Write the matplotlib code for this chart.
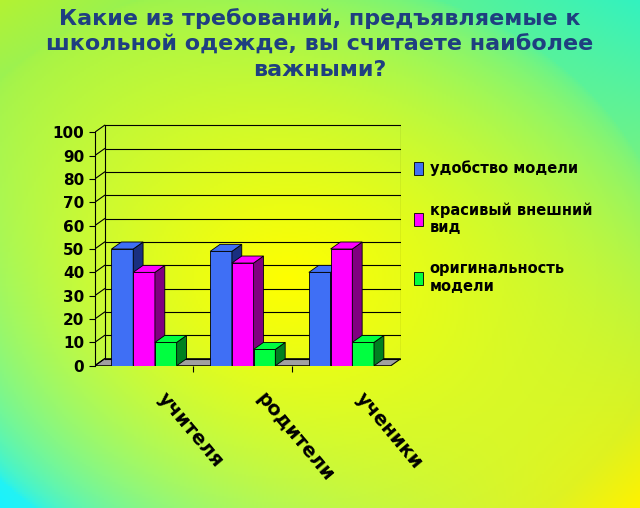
import numpy as np
import matplotlib.pyplot as plt
from matplotlib.patches import Polygon

groups = ['учителя', 'родители', 'ученики']
series = ['удобство модели', 'красивый внешний\nвид', 'оригинальность\nмодели']
values = [[50, 49, 40],
          [40, 44, 50],
          [10, 7, 10]]
colors = ['#3f6ff5', '#ff00ff', '#00ff40']
dark = ['#1a2f80', '#800080', '#008020']

plt.rcParams['font.family'] = ['DejaVu Sans']
fig = plt.figure(figsize=(6.4, 5.08), dpi=100)

# фон-градиент
bg = fig.add_axes([0, 0, 1, 1], zorder=-10)
h, w = 254, 320
yy, xx = np.mgrid[0:1:h * 1j, 0:1:w * 1j]
tl = np.array([0.7, 0.95, 0.2]); tr = np.array([0.2, 0.95, 0.75])
bl = np.array([0.1, 0.95, 1.0]); br = np.array([1.0, 0.95, 0.0])
cor = (tl * ((1 - xx) * (1 - yy))[..., None] + tr * (xx * (1 - yy))[..., None]
       + bl * ((1 - xx) * yy)[..., None] + br * (xx * yy)[..., None])
d = np.sqrt((xx - 0.45) ** 2 + (yy - 0.55) ** 2) / 0.6
wgt = np.clip(1 - d, 0, 1)[..., None] ** 0.6
img = cor * (1 - wgt) + np.array([1, 1, 0]) * wgt
bg.imshow(img, aspect='auto', extent=[0, 1, 0, 1])
bg.axis('off')

ax = fig.add_axes([0.148, 0.28, 0.478, 0.478])
ax.patch.set_alpha(0)
ax.set_xlim(-0.5, 2.6)
ax.set_ylim(0, 104)
dx, dy = 0.1, 3
for v in range(0, 101, 10):
    ax.plot([-0.5 + dx, 2.5 + dx], [v + dy, v + dy], color='black', lw=0.8)
    ax.plot([-0.5, -0.5 + dx], [v, v + dy], color='black', lw=0.8)
ax.plot([2.5 + dx, 2.5 + dx], [dy, 100 + dy], color='black', lw=0.8)
ax.plot([-0.5 + dx, -0.5 + dx], [dy, 100 + dy], color='black', lw=0.8)
ax.add_patch(Polygon([(-0.5, 0), (2.5, 0), (2.5 + dx, dy), (-0.5 + dx, dy)],
                     closed=True, fc='#a0a0a0', ec='black', lw=0.8))

bw = 0.22
for s in range(3):
    xs = np.arange(3) + (s - 1) * bw
    ax.bar(xs, values[s], width=bw, color=colors[s], edgecolor='black', lw=0.6,
           label=series[s], zorder=3)
    for x, v in zip(xs, values[s]):
        r = x + bw / 2; l = x - bw / 2
        ax.add_patch(Polygon([(r, 0), (r + dx, dy), (r + dx, v + dy), (r, v)],
                             fc=dark[s], ec='black', lw=0.6, zorder=3))
        ax.add_patch(Polygon([(l, v), (l + dx, v + dy), (r + dx, v + dy), (r, v)],
                             fc=colors[s], ec='black', lw=0.6, zorder=3))

for sp in ['top', 'right', 'bottom']:
    ax.spines[sp].set_visible(False)
ax.spines['left'].set_bounds(0, 100)
ax.set_yticks(range(0, 101, 10))
ax.tick_params(axis='y', labelsize=11, length=4)
for t in ax.get_yticklabels():
    t.set_fontweight('bold')
ax.set_xticks([0.5, 1.5])
ax.set_xticklabels([])
ax.tick_params(axis='x', length=4)
for i, g in enumerate(groups):
    ax.text(i + 0.25, -10, g, rotation=-50, rotation_mode='anchor', ha='left', va='top',
            fontsize=14, fontweight='bold')

ax.legend(loc='upper left', bbox_to_anchor=(1.0, 0.9), frameon=False,
          labelspacing=1.8, handlelength=0.6, handleheight=1.0, handletextpad=0.5,
          prop={'weight': 'bold', 'size': 10.5})

fig.text(0.5, 0.985, 'Какие из требований, предъявляемые к\nшкольной одежде, вы считаете наиболее\nважными?',
         ha='center', va='top', fontsize=16, fontweight='bold', color='#1f3f80',
         linespacing=1.35)

fig.savefig('out.png', dpi=100)
